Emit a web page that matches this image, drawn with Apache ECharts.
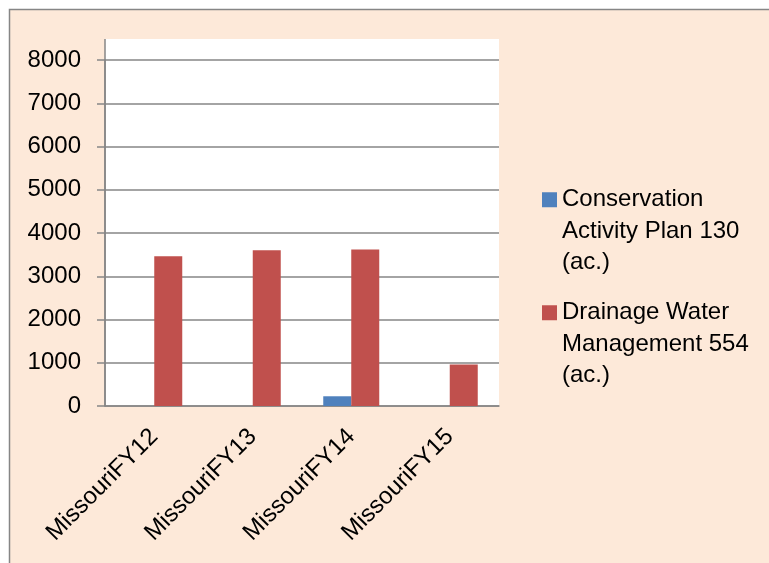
<!DOCTYPE html>
<html>
<head>
<meta charset="utf-8">
<script src="https://cdn.jsdelivr.net/npm/echarts@6/dist/echarts.min.js"></script>
<style>
  html, body { margin: 0; padding: 0; background: #fff; }
  #main { width: 769px; height: 563px; }
</style>
</head>
<body>
<div id="main"></div>
<script>
// 数据
var categories = ['MissouriFY12', 'MissouriFY13', 'MissouriFY14', 'MissouriFY15'];
var seriesNames = ['Conservation\nActivity Plan 130\n(ac.)', 'Drainage Water\nManagement 554\n(ac.)'];
var capValues = [0, 0, 225, 0];
var dwmValues = [3465, 3600, 3620, 960];
var yTicks = [0, 8000, 1000]; // min, max, interval

var fontName = 'Liberation Sans';
var gray = '#868686';

var myChart = echarts.init(document.getElementById('main'));

// 图例: 前面加两行空行, 让色块对齐第一行文字
function legendText(name) {
    return '\n\n' + name;
}

var option = {
    animation: false,
    backgroundColor: '#ffffff',
    textStyle: { fontFamily: fontName },
    graphic: [
        // 外框 + 背景
        { type: 'rect', z: -10, shape: { x: 9.5, y: 9.5, width: 800, height: 600 },
          style: { fill: '#FDE9D9', stroke: gray, lineWidth: 1.5 } },
        // 绘图区白底
        { type: 'rect', z: -9, shape: { x: 105, y: 39, width: 394, height: 367 },
          style: { fill: '#ffffff' } },
        { type: 'line', z: 5, shape: { x1: 105, y1: 39, x2: 105, y2: 406 },
          style: { stroke: gray, lineWidth: 1.5 } }
    ],
    grid: { left: 105, right: 270, top: 60, bottom: 157 },
    legend: [
        {
            data: [seriesNames[0]], left: 542, top: 121, padding: 0,
            itemWidth: 15, itemHeight: 15, icon: 'rect', formatter: legendText,
            textStyle: { fontSize: 24, lineHeight: 31.5, color: '#000', fontFamily: fontName }
        },
        {
            data: [seriesNames[1]], left: 542, top: 234, padding: 0,
            itemWidth: 15, itemHeight: 15, icon: 'rect', formatter: legendText,
            textStyle: { fontSize: 24, lineHeight: 31.5, color: '#000', fontFamily: fontName }
        }
    ],
    xAxis: {
        type: 'category',
        data: categories,
        axisLine: { lineStyle: { color: gray, width: 1.5 } },
        axisTick: { length: 8, lineStyle: { color: gray, width: 1.5 } },
        axisLabel: { rotate: 45, fontSize: 24, color: '#000', margin: 27, fontFamily: fontName }
    },
    yAxis: {
        type: 'value',
        min: yTicks[0], max: yTicks[1], interval: yTicks[2],
        axisLine: { show: true, lineStyle: { color: gray, width: 1.5 } },
        axisTick: { show: true, length: 8, lineStyle: { color: gray, width: 1.5 } },
        axisLabel: { fontSize: 24, color: '#000', margin: 24, fontFamily: fontName,
                     formatter: function (v) { return String(v); } },
        splitLine: { lineStyle: { color: gray, width: 1.5 } }
    },
    series: [
        {
            name: seriesNames[0], type: 'bar', data: capValues,
            barWidth: 28, barGap: '0%',
            itemStyle: { color: '#4F81BD' }
        },
        {
            name: seriesNames[1], type: 'bar', data: dwmValues,
            barWidth: 28, barGap: '0%',
            itemStyle: { color: '#C0504D' }
        }
    ]
};
myChart.setOption(option);
</script>
</body>
</html>
